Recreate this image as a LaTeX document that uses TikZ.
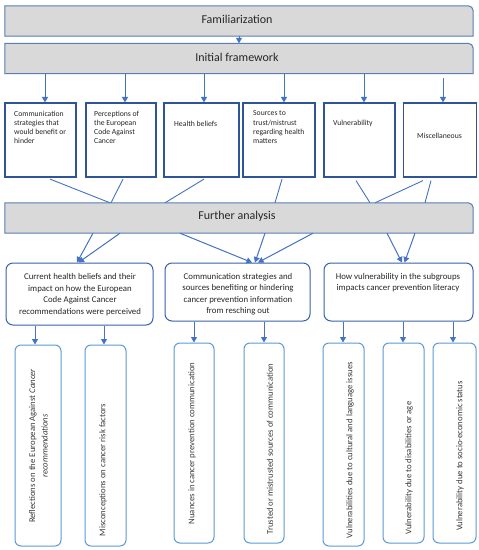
\documentclass[tikz,border=0pt]{standalone}
\usepackage{fontspec}
\setmainfont{Carlito}
\usetikzlibrary{arrows.meta,calc}
\definecolor{barfill}{HTML}{D9D9D9}
\definecolor{barline}{HTML}{5A7DB5}
\definecolor{boxline}{HTML}{2F5597}
\definecolor{arrblue}{HTML}{4472C4}
\definecolor{grpline}{HTML}{3A62A8}
\definecolor{lowline}{HTML}{5B9BD5}
\definecolor{txt}{HTML}{262626}
\definecolor{ltxt}{HTML}{3A3A3A}
\tikzset{
  barnode/.style={minimum width=468pt,minimum height=30pt,inner sep=0pt,text=txt,font=\fontsize{12}{14}\selectfont},
  bartext/.style={text=txt,font=\fontsize{12}{14}\selectfont,inner sep=0pt},
  catbox/.style={draw=boxline,line width=1.2pt,minimum height=74pt,inner sep=0pt},
  cattext/.style={text=txt,font=\fontsize{7.7}{9.3}\selectfont,align=left,inner sep=0pt,anchor=north west},
  grpbox/.style={draw=grpline,line width=1pt,rounded corners=7pt,inner sep=0pt},
  grptext/.style={text=txt,font=\fontsize{8.8}{11.5}\selectfont,align=center,inner sep=0pt},
  lowbox/.style={draw=lowline,line width=1pt,rounded corners=6pt,inner sep=0pt},
  lowtext/.style={text=ltxt,font=\fontsize{8.7}{12.5}\selectfont,align=center,inner sep=0pt,rotate=90},
  arr/.style={draw=arrblue,line width=1pt,-{Triangle[length=5.5pt,width=6pt]}},
  conv/.style={draw=arrblue,line width=0.9pt}
}
\begin{document}
\begin{tikzpicture}[x=1pt,y=-1pt]
\useasboundingbox[fill=white] (0,0) rectangle (479,550);
% bars
\node[barnode] (fam) at (239,21) {};
\node[barnode] (init) at (239,58.5) {};
\node[barnode] (fa) at (239,218) {};
\foreach \n in {fam,init,fa}{
  \filldraw[fill=barfill,draw=barline,line width=1pt]
    (\n.south west) -- (\n.north west) -- ($(\n.north east)+(-5,0)$)
    arc[start angle=90,end angle=0,radius=5pt] -- (\n.south east) -- cycle;
}
\node[bartext] (famt) at (237,19) {Familiarization};
\node[bartext] (initt) at (237,57) {Initial framework};
\node[bartext] (fat) at (237,216.5) {Further analysis};
% category boxes
\node[catbox,minimum width=71pt] (b1) at (40.5,140) {};
\node[catbox,minimum width=70pt] (b2) at (121,140) {};
\node[catbox,minimum width=75pt] (b3) at (201.5,140) {};
\node[catbox,minimum width=72pt] (b4) at (279,140) {};
\node[catbox,minimum width=71pt] (b5) at (359.5,140) {};
\node[catbox,minimum width=73pt] (b6) at (440,140) {};
\node[cattext] (t1) at (14,110.5) {Communication\\strategies that\\would benefit or\\hinder};
\node[cattext] (t2) at (94,110.5) {Perceptions of\\the European\\Code Against\\Cancer};
\node[cattext] (t3) at (174,120.5) {Health beliefs};
\node[cattext] (t4) at (253,110.5) {Sources to\\trust/mistrust\\regarding health\\matters};
\node[cattext] (t5) at (333,119.5) {Vulnerability};
\node[cattext] (t6) at (417,132.5) {Miscellaneous};
% arrows
\draw[arr] (fam.south) -- (init.north);
\foreach \b/\s in {b1/4.5,b2/4,b3/2.5,b4/5,b5/4.5}{
  \draw[arr] ($(init.south -| \b.north)+(\s,0)$) -- ($(\b.north)+(\s,0)$);
}
\coordinate (c6) at (443,78);
\draw[arr] (c6) -- ($(b6.north)+(3,0)$);
% converging lines
\draw[conv] ($(b1.south)+(9.5,1.5)$) -- ($(fa.north)+(-129,0)$);
\draw[conv] ($(b2.south)+(2,1.5)$) -- ($(fa.north)+(-128,0)$);
\draw[conv] ($(b3.south)+(2.5,1.5)$) -- ($(fa.north)+(-74,0)$);
\draw[conv] ($(b4.south)+(3,1.5)$) -- ($(fa.north)+(36,0)$);
\draw[conv] ($(b5.south)+(-3.5,3)$) -- ($(fa.north)+(131,0)$);
\draw[conv] ($(b6.south)+(-17,3)$) -- ($(fa.north)+(136,0)$);
\draw[conv] ($(b6.south)+(-9,3)$) -- ($(fa.north)+(186,0)$);
% group boxes
\node[grpbox,minimum width=147pt,minimum height=62pt] (g1) at (79.5,294) {};
\node[grpbox,minimum width=145pt,minimum height=58pt] (g2) at (237.5,292) {};
\node[grpbox,minimum width=149pt,minimum height=58pt] (g3) at (398.5,292) {};
\node[grptext] (gt1) at (80,294.5) {Current health beliefs and their\\impact on how the European\\Code Against Cancer\\recommendations were perceived};
\node[grptext] (gt2) at (238,294) {Communication strategies and\\sources benefiting or hindering\\cancer prevention information\\from resching out};
\node[grptext] (gt3) at (398,282.5) {How vulnerability in the subgroups\\impacts cancer prevention literacy};
% arrows to groups
\draw[arr] ($(fa.south)+(-146,0)$) -- ($(g1.north)+(-2.5,0)$);
\draw[arr] ($(fa.south)+(-119,0)$) -- ($(g1.north)+(-1,0)$);
\draw[arr] ($(fa.south)+(-59,0)$) -- ($(g2.north)+(14.5,0)$);
\draw[arr] ($(fa.south)+(26,0)$) -- ($(g2.north)+(17.5,0)$);
\draw[arr] ($(fa.south)+(74,0)$) -- ($(g2.north)+(20.5,0)$);
\draw[arr] ($(fa.south)+(148,0)$) -- ($(g3.north)+(3.5,0)$);
\draw[arr] ($(fa.south)+(176,0)$) -- ($(g3.north)+(6,0)$);
% bottom boxes
\node[lowbox,minimum width=46pt,minimum height=201pt] (la) at (38,445.5) {};
\node[lowbox,minimum width=41pt,minimum height=201pt] (lb) at (105.5,445.5) {};
\node[lowbox,minimum width=40pt,minimum height=200pt] (lc) at (194,443) {};
\node[lowbox,minimum width=40pt,minimum height=200pt] (ld) at (264,443) {};
\node[lowbox,minimum width=41pt,minimum height=203pt] (le) at (343.5,444.5) {};
\node[lowbox,minimum width=41pt,minimum height=200pt] (lf) at (403.5,443) {};
\node[lowbox,minimum width=43pt,minimum height=200pt] (lg) at (454.5,443) {};
\node[lowtext] (lta) at (38.5,446) {Reflections on the European Against \textit{Cancer}\\\textit{recommendations}};
\node[lowtext] (ltb) at (103,470) {Misconceptions on cancer risk factors};
\node[lowtext] (ltc) at (192,443.5) {Nuances in cancer prevention communication};
\node[lowtext] (ltd) at (270,449) {Trusted or mistrusted sources of communication};
\node[lowtext] (lte) at (350,450) {Vulnerabilities due to cultural and language issues};
\node[lowtext] (ltf) at (409,468) {Vulnerability due to disabilities or age};
\node[lowtext] (ltg) at (460,456) {Vulnerability due to socio-economic status};
% arrows to bottom boxes
\draw[arr] ($(g1.south -| la.north)+(-3,0)$) -- ($(la.north)+(-3,0)$);
\draw[arr] ($(g1.south -| lb.north)+(-1.5,0)$) -- ($(lb.north)+(-1.5,0)$);
\draw[arr] (g2.south -| lc.north) -- (lc.north);
\draw[arr] (g2.south -| ld.north) -- (ld.north);
\draw[arr] ($(g3.south -| le.north)+(-0.5,0)$) -- ($(le.north)+(-0.5,0)$);
\draw[arr] ($(g3.south -| lf.north)+(-0.5,0)$) -- ($(lf.north)+(-0.5,0)$);
\draw[arr] ($(g3.south -| lg.north)+(-1.5,0)$) -- ($(lg.north)+(-1.5,0)$);
\end{tikzpicture}
\end{document}
